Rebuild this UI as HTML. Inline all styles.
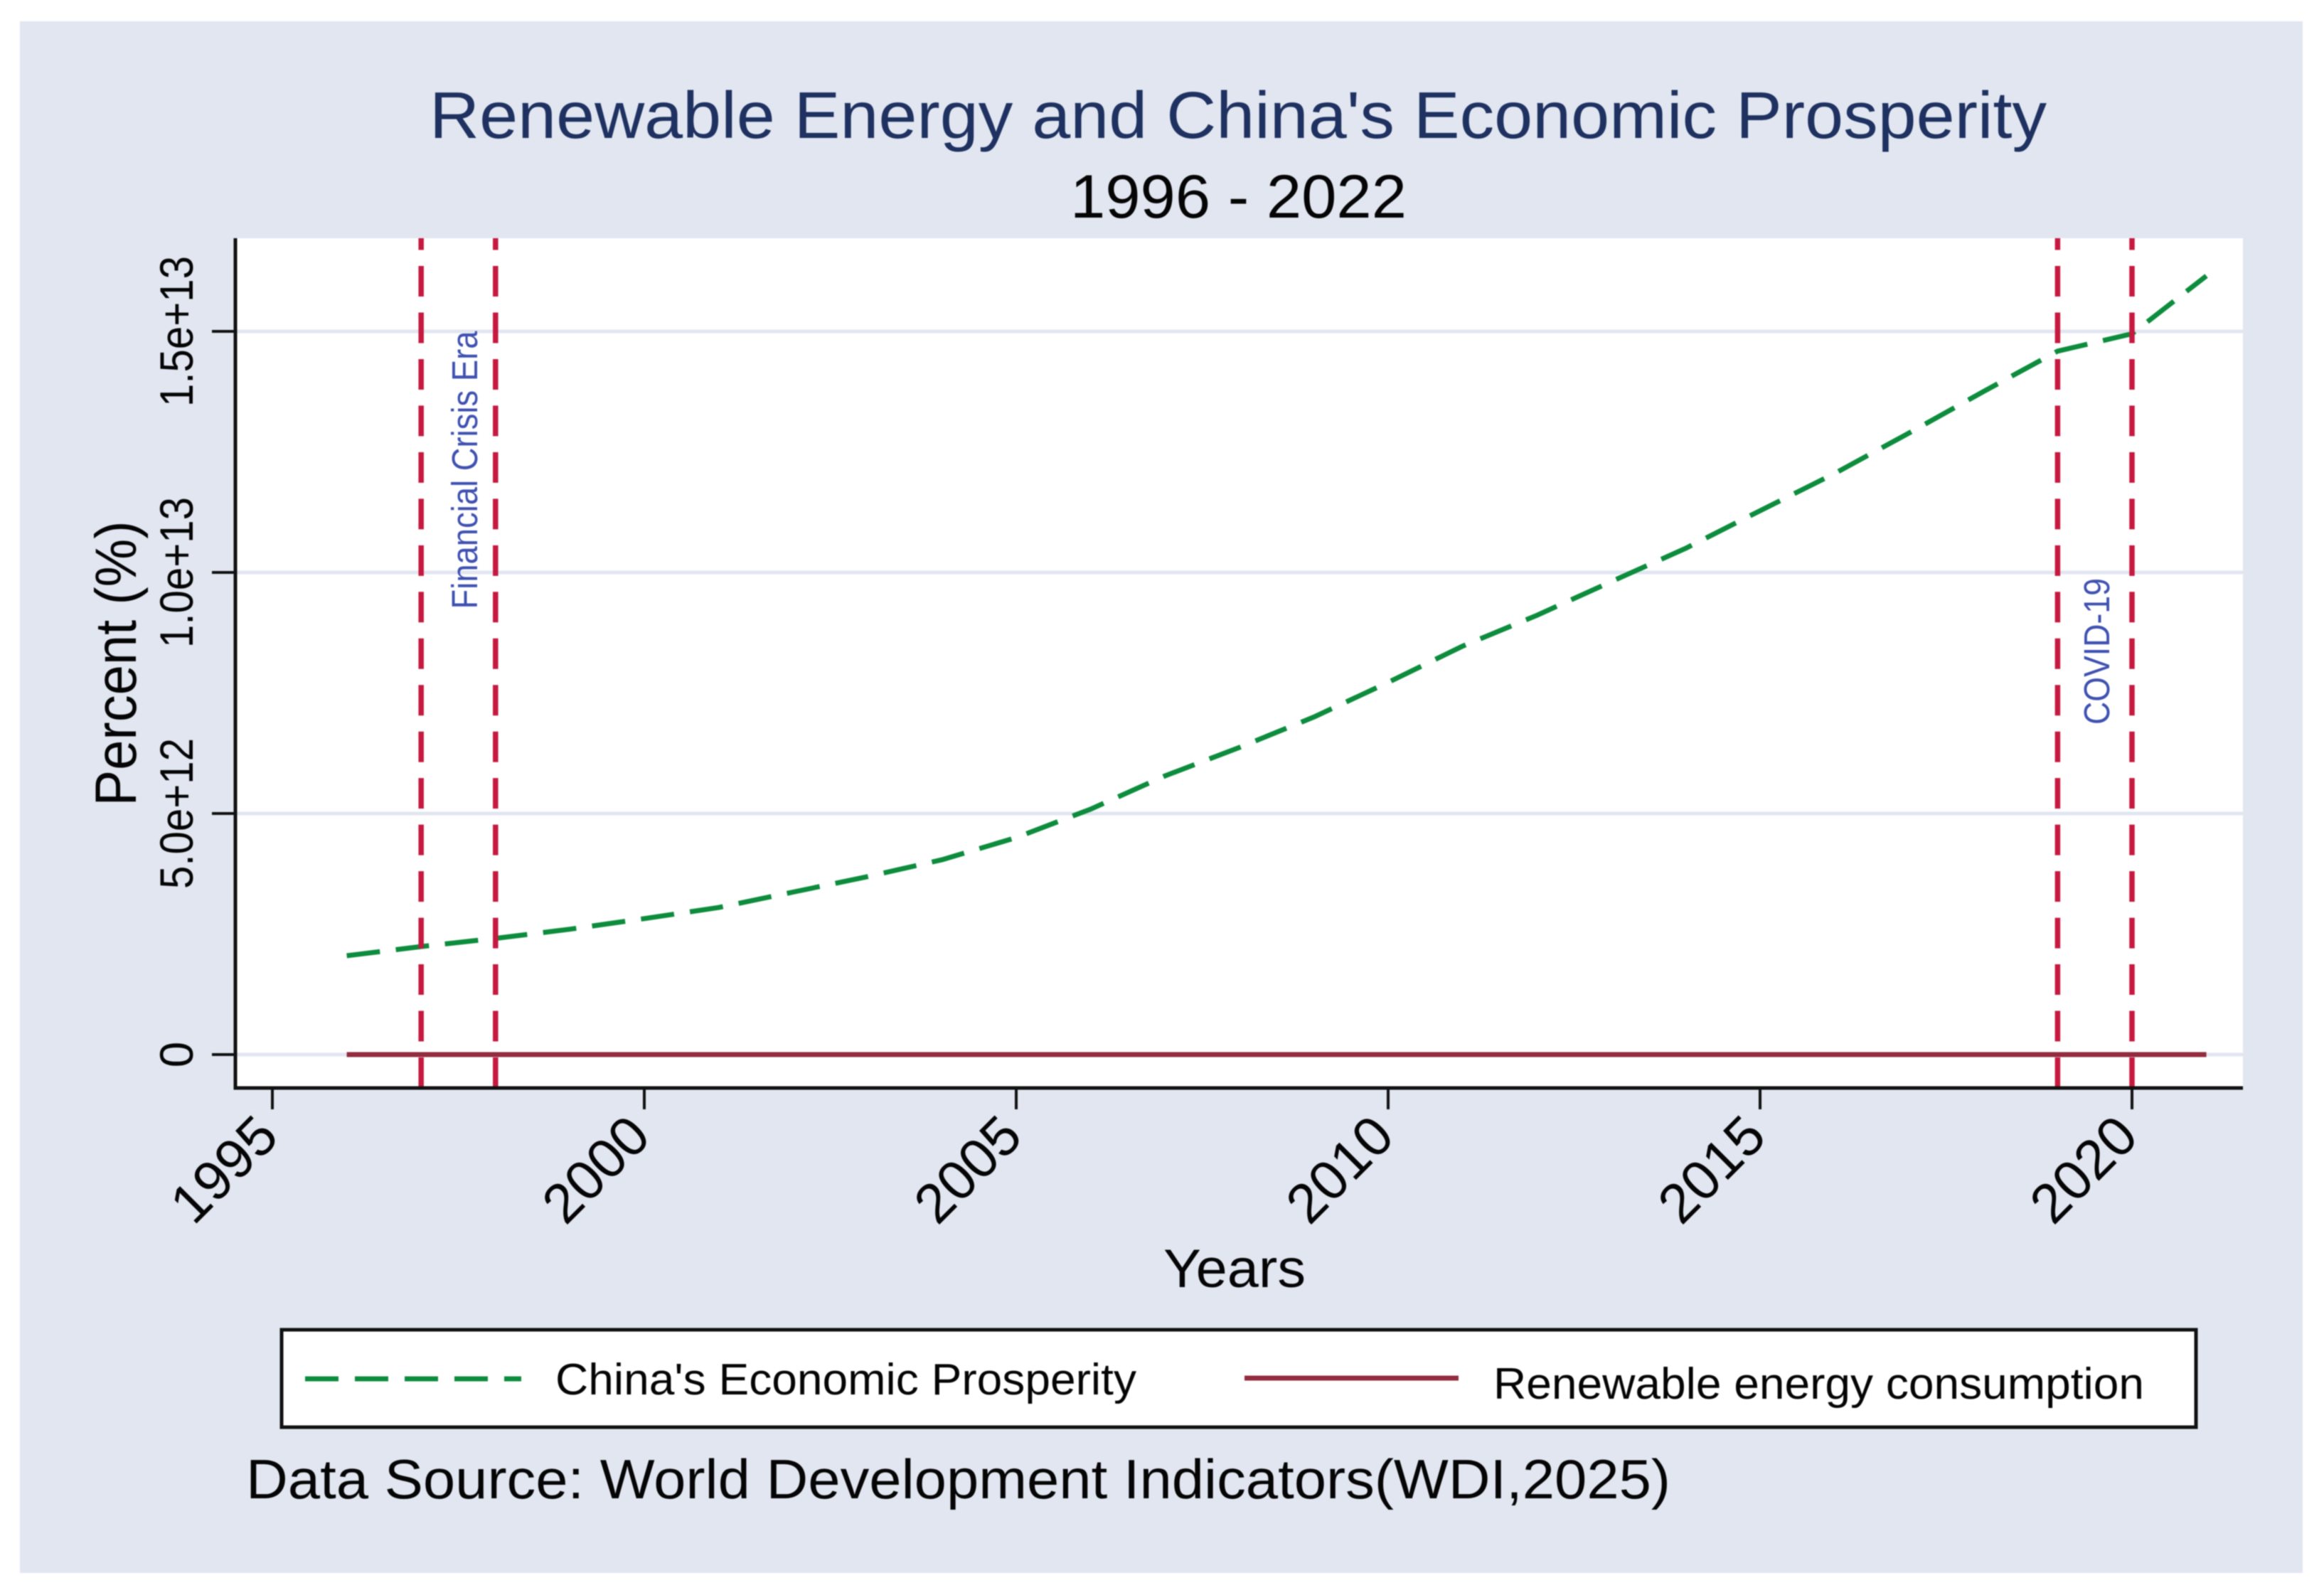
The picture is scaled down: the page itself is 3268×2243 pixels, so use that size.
<!DOCTYPE html>
<html lang="en">
<head>
<meta charset="utf-8">
<title>Renewable Energy and China's Economic Prosperity</title>
<style>
html,body{margin:0;padding:0;background:#fff;}
svg{display:block;filter:blur(0.9px);}
text{font-family:"Liberation Sans",Arial,sans-serif;}
</style>
</head>
<body>
<svg id="chart" xmlns="http://www.w3.org/2000/svg" width="3268" height="2243" viewBox="0 0 3268 2243">
  <rect x="0" y="0" width="3268" height="2243" fill="#ffffff"/>
  <rect x="28" y="30" width="3210" height="2182" fill="#e1e6f1"/>
  <rect x="331" y="335" width="2823" height="1195" fill="#ffffff"/>
  <g id="grid"></g>
  <g id="events"></g>
  <g id="series"></g>
  <path d="M331 335V1532.5" stroke="#111" stroke-width="5" fill="none"/>
  <path d="M329 1530H3154" stroke="#111" stroke-width="5" fill="none"/>
  <g id="axes"></g>

  <text x="604" y="194" font-size="93" fill="#1e3160" textLength="2274" lengthAdjust="spacingAndGlyphs">Renewable Energy and China's Economic Prosperity</text>
  <text x="1505" y="306" font-size="86" fill="#050505" textLength="473" lengthAdjust="spacingAndGlyphs">1996 - 2022</text>

  <text transform="translate(191,933) rotate(-90)" text-anchor="middle" font-size="82" fill="#050505" textLength="401" lengthAdjust="spacingAndGlyphs">Percent (%)</text>
  <text x="1636" y="1810" font-size="76" fill="#050505" textLength="200" lengthAdjust="spacingAndGlyphs">Years</text>

  <text transform="translate(671,661) rotate(-90)" text-anchor="middle" font-size="51" fill="#3f51b0" textLength="391" lengthAdjust="spacingAndGlyphs">Financial Crisis Era</text>
  <text transform="translate(2966,916) rotate(-90)" text-anchor="middle" font-size="51" fill="#3f51b0" textLength="206" lengthAdjust="spacingAndGlyphs">COVID-19</text>

  <g>
    <rect x="396" y="1870" width="2692" height="137" fill="#ffffff" stroke="#111" stroke-width="5"/>
    <line x1="429" y1="1939" x2="733" y2="1939" stroke="#0c8c3c" stroke-width="7" stroke-dasharray="47 23"/>
    <text x="781" y="1961" font-size="62" fill="#050505" textLength="817" lengthAdjust="spacingAndGlyphs">China's Economic Prosperity</text>
    <line x1="1750" y1="1938" x2="2051" y2="1938" stroke="#922c3e" stroke-width="7"/>
    <text x="2100" y="1967" font-size="62" fill="#050505" textLength="915" lengthAdjust="spacingAndGlyphs">Renewable energy consumption</text>
  </g>

  <text x="346" y="2107" font-size="78" fill="#050505" textLength="2003" lengthAdjust="spacingAndGlyphs">Data Source: World Development Indicators(WDI,2025)</text>
</svg>

<script>
const years = [1996,1997,1998,1999,2000,2001,2002,2003,2004,2005,2006,2007,2008,2009,2010,2011,2012,2013,2014,2015,2016,2017,2018,2019,2020,2021];
const prosperity = [2.05e12,2.24e12,2.41e12,2.60e12,2.82e12,3.05e12,3.37e12,3.69e12,4.04e12,4.50e12,5.09e12,5.78e12,6.37e12,7.00e12,7.72e12,8.47e12,9.11e12,9.81e12,10.50e12,11.28e12,12.05e12,12.89e12,13.75e12,14.59e12,14.95e12,16.15e12];
const renewable = [33,32,32,31,30,29,28,25,23,21,19,17,17,16,13,12,13,13,14,15,15,14,14,15,16,15];
const eventYears = [1997,1998,2019,2020];
const xTickValues = [1995,2000,2005,2010,2015,2020];
const xTickLabels = ['1995','2000','2005','2010','2015','2020'];
const yTickValues = [0,5e12,1e13,1.5e13];
const yTickLabels = ['0','5.0e+12','1.0e+13','1.5e+13'];

const NS = 'http://www.w3.org/2000/svg';
const plotLeft = 331, plotRight = 3154, plotTop = 335, plotBottom = 1530;
const xScale = function (year) { return 383 + (year - 1995) * 104.6; };
const yScale = function (value) { return 1483 - value / 1e12 * 67.8; };

function make(tag, parent, attrs) {
  const el = document.createElementNS(NS, tag);
  for (const k in attrs) el.setAttribute(k, attrs[k]);
  parent.appendChild(el);
  return el;
}
function linePath(values) {
  return values.map(function (v, i) {
    return (i ? 'L' : 'M') + xScale(years[i]).toFixed(1) + ' ' + yScale(v).toFixed(1);
  }).join('');
}

const gridG = document.getElementById('grid');
yTickValues.forEach(function (v) {
  const grid = make('line', gridG, {x1: plotLeft, x2: plotRight, y1: yScale(v), y2: yScale(v), stroke: '#e1e6f1', 'stroke-width': 5});
  
  
});

const seriesG = document.getElementById('series');
const renewableLine = make('path', seriesG, {d: linePath(renewable), fill: 'none', stroke: '#922c3e', 'stroke-width': 7});



const prosperityLine = make('path', seriesG, {d: linePath(prosperity), fill: 'none', stroke: '#0c8c3c', 'stroke-width': 7, 'stroke-dasharray': '47 22.5', 'stroke-linejoin': 'round'});



const eventsG = document.getElementById('events');
eventYears.forEach(function (year) {
  const x = xScale(year);
  const ev = make('path', eventsG, {d: 'M' + x + ' ' + plotBottom + 'V' + plotTop, fill: 'none', stroke: '#c5193f', 'stroke-width': 7.5, 'stroke-dasharray': '43 22.47'});
  
  
});
// event lines sit above the series in the reference
document.getElementById('chart').insertBefore(seriesG, eventsG);

const axesG = document.getElementById('axes');
yTickValues.forEach(function (v, i) {
  const y = yScale(v);
  const tick = make('line', axesG, {x1: 298, x2: plotLeft, y1: y, y2: y, stroke: '#111', 'stroke-width': 4});
  
  
  const isZero = yTickLabels[i].length === 1;
  const attrs = {transform: 'translate(271,' + y + ') rotate(-90)', 'text-anchor': 'middle', 'font-size': 66, fill: '#050505'};
  if (!isZero) { attrs.textLength = 212; attrs.lengthAdjust = 'spacingAndGlyphs'; }
  const label = make('text', axesG, attrs);
  label.textContent = yTickLabels[i];
  
  
});
xTickValues.forEach(function (year, i) {
  const x = xScale(year);
  const tick = make('line', axesG, {x1: x, x2: x, y1: plotBottom, y2: 1560, stroke: '#111', 'stroke-width': 4});
  
  
  const lx = x + 12, ly = 1602;
  const label = make('text', axesG, {x: lx, y: ly, transform: 'rotate(-45 ' + lx + ' ' + ly + ')', 'text-anchor': 'end', 'font-size': 78, fill: '#050505'});
  label.textContent = xTickLabels[i];
  
  
});
</script>
</body>
</html>
